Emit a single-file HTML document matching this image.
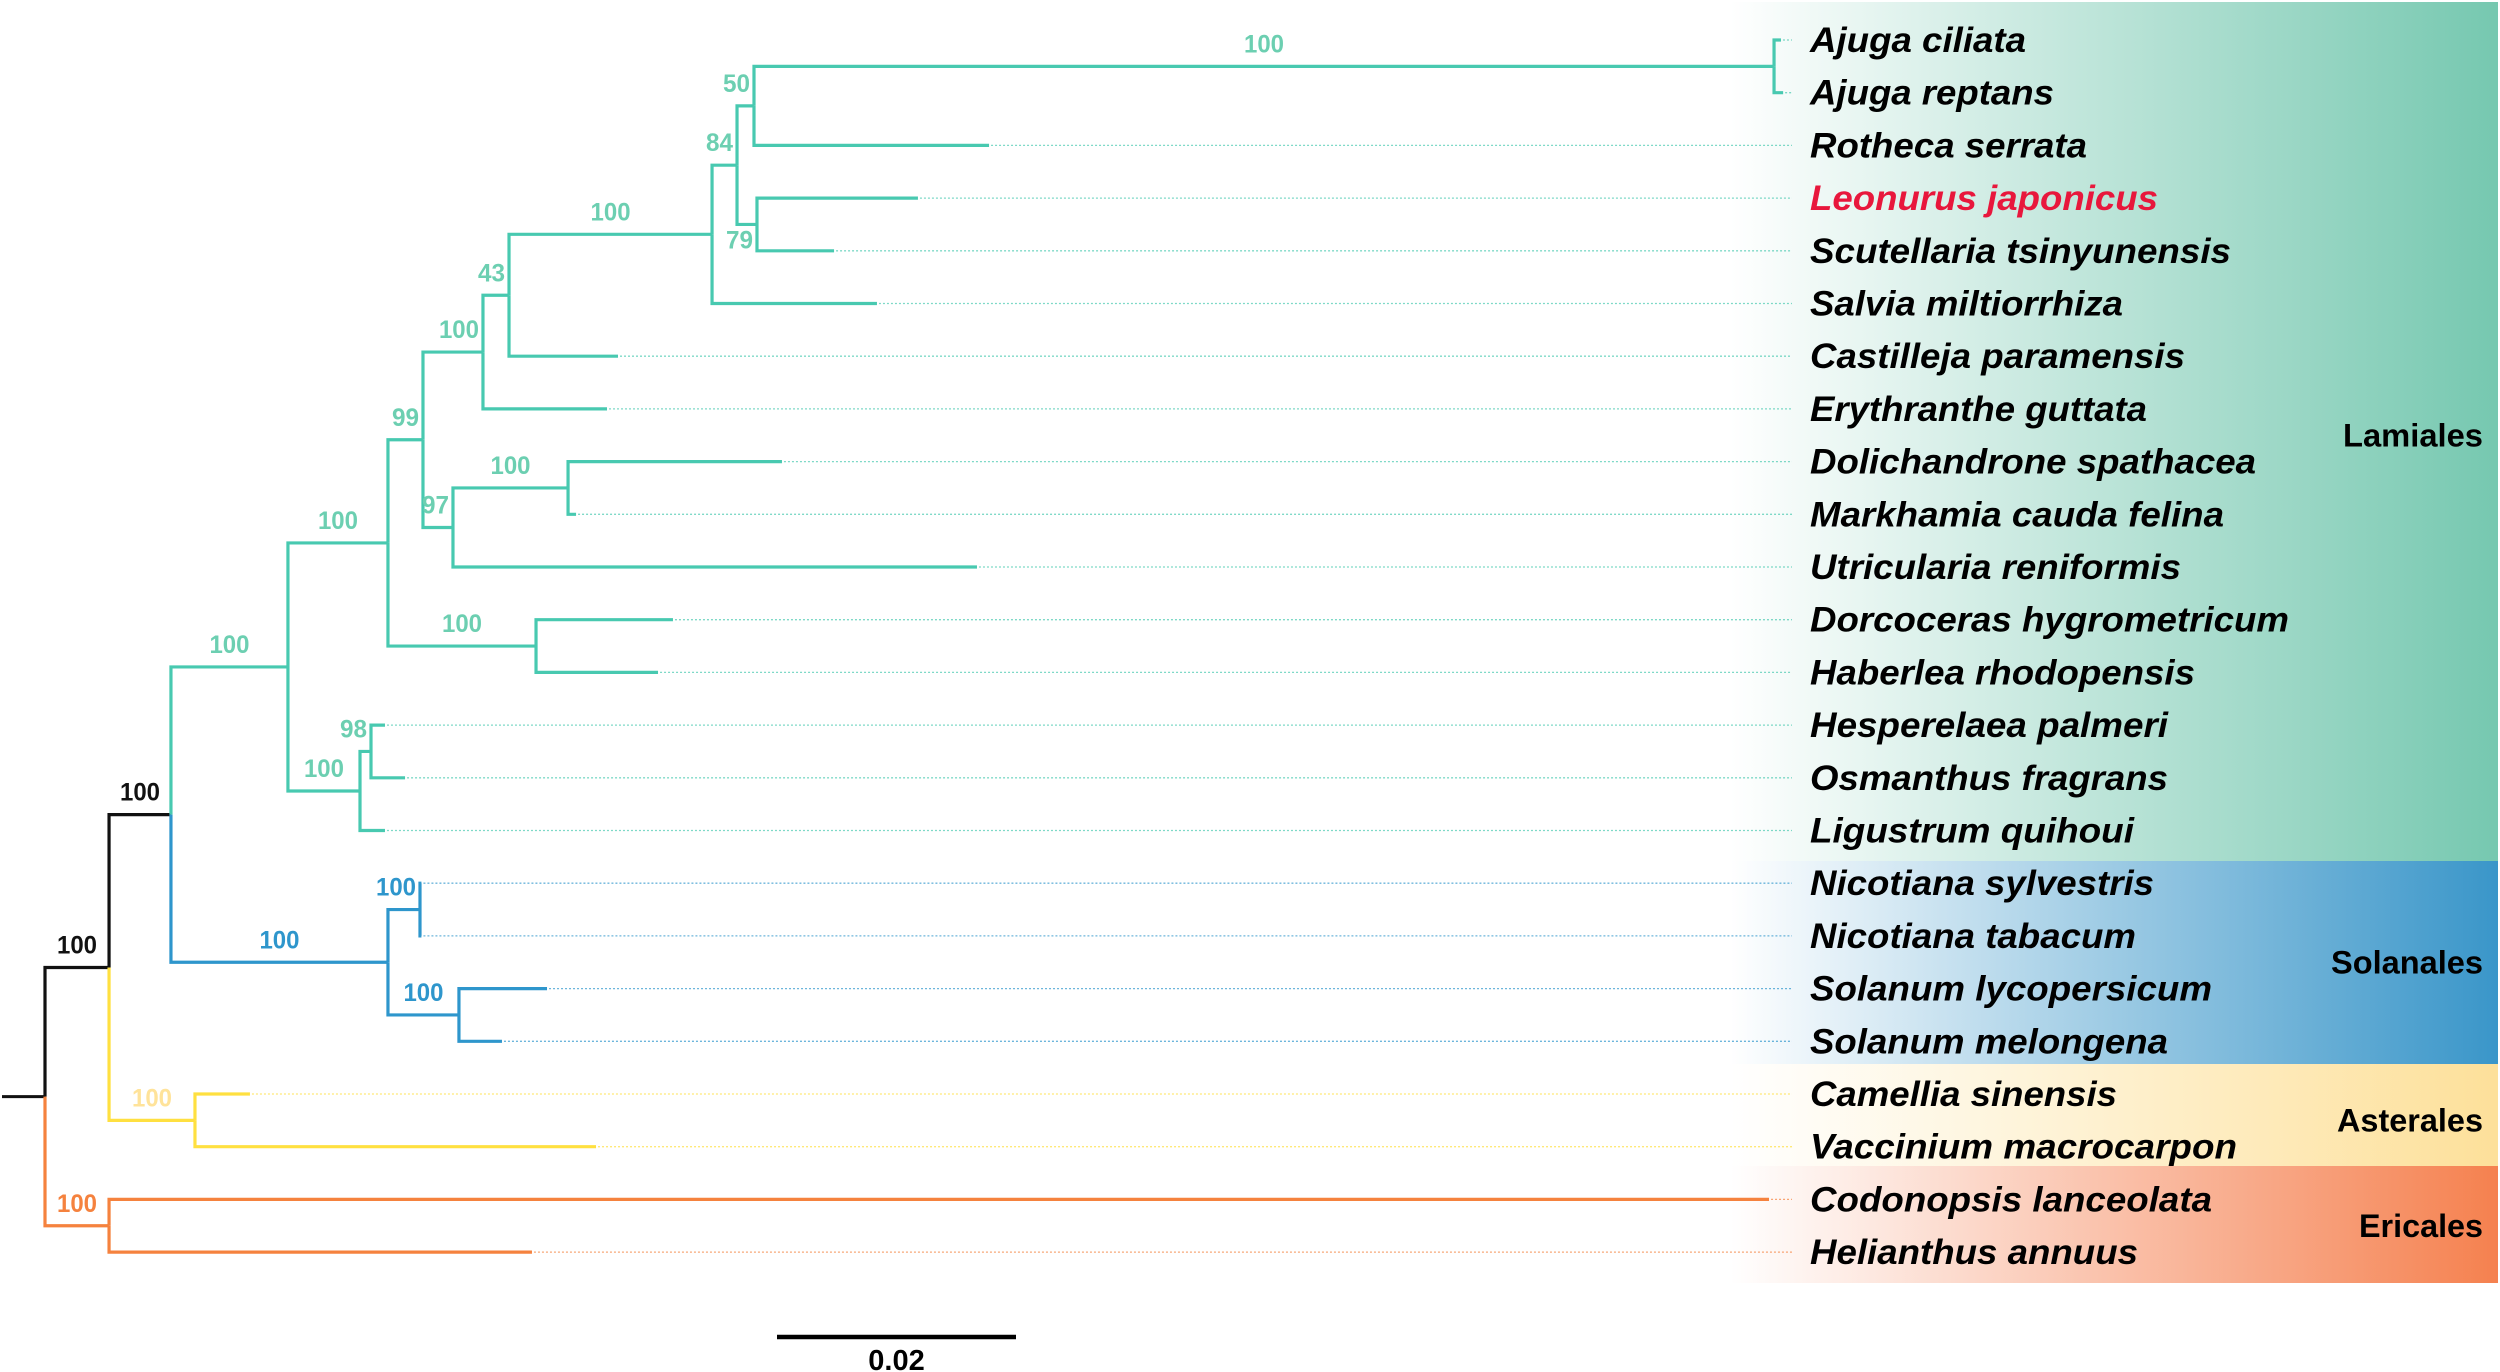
<!DOCTYPE html>
<html><head><meta charset="utf-8"><style>
html,body{margin:0;padding:0;background:#fff;}
svg{display:block;}
</style></head><body>
<svg id="chart" width="2500" height="1372" viewBox="0 0 2500 1372" xmlns="http://www.w3.org/2000/svg" font-family="'Liberation Sans', sans-serif">
<defs>
<linearGradient id="gL" x1="1730" x2="2497" gradientUnits="userSpaceOnUse"><stop offset="0" stop-color="#76C8B0" stop-opacity="0"/><stop offset="1" stop-color="#76C8B0"/></linearGradient>
<linearGradient id="gS" x1="1730" x2="2497" gradientUnits="userSpaceOnUse"><stop offset="0" stop-color="#3A96C9" stop-opacity="0"/><stop offset="1" stop-color="#3A96C9"/></linearGradient>
<linearGradient id="gA" x1="1730" x2="2497" gradientUnits="userSpaceOnUse"><stop offset="0" stop-color="#FDE3A0" stop-opacity="0"/><stop offset="1" stop-color="#FDE09A"/></linearGradient>
<linearGradient id="gE" x1="1730" x2="2497" gradientUnits="userSpaceOnUse"><stop offset="0" stop-color="#F5845A" stop-opacity="0"/><stop offset="1" stop-color="#F5814F"/></linearGradient>
</defs>
<g id="bands"></g>
<g id="tree"></g>
<g id="labels"></g>
</svg>
<script>
// ---- data ----
const leafNames = ["Ajuga ciliata","Ajuga reptans","Rotheca serrata","Leonurus japonicus","Scutellaria tsinyunensis","Salvia miltiorrhiza","Castilleja paramensis","Erythranthe guttata","Dolichandrone spathacea","Markhamia cauda felina","Utricularia reniformis","Dorcoceras hygrometricum","Haberlea rhodopensis","Hesperelaea palmeri","Osmanthus fragrans","Ligustrum quihoui","Nicotiana sylvestris","Nicotiana tabacum","Solanum lycopersicum","Solanum melongena","Camellia sinensis","Vaccinium macrocarpon","Codonopsis lanceolata","Helianthus annuus"];
const leafDepths = [0.14527,0.14545,0.0790,0.07305,0.06603,0.06962,0.04795,0.04703,0.06167,0.04444,0.07799,0.05255,0.0513,0.02845,0.03013,0.02845,0.0315,0.0315,0.04201,0.03824,0.01715,0.04611,0.14427,0.04075];
const leafClades = ["L","L","L","L","L","L","L","L","L","L","L","L","L","L","L","L","S","S","S","S","A","A","E","E"];
const labelWidths = [216,244,277,348,421,313,375,337,446,414,371,479,385,358,358,324,344,326,402,358,307,427,402,328];
const nodeIds = ["root","A","B","L0","L1","L2","L3","L4","L5","L6","L7","L8","L9","L10","L11","L12","L13","L14","S0","S1","S2","AS","E"];
const nodeParents = [null,"root","A","B","L0","L1","L2","L3","L4","L5","L6","L7","L6","L2","L10","L1","L0","L13","B","S0","S0","A","root"];
const nodeDepths = [0,0.00536,0.01054,0.02033,0.0287,0.03163,0.03665,0.03883,0.05582,0.05791,0.05933,0.14469,0.05958,0.03414,0.04377,0.04109,0.02636,0.02728,0.0287,0.03138,0.03464,0.01255,0.00536];
const nodeSupport = [null,100,100,100,100,99,100,43,100,84,50,100,79,97,100,100,100,98,100,100,100,100,100];
const nodeClades = ["K","K","K","L","L","L","L","L","L","L","L","L","L","L","L","L","L","L","S","S","S","A","E"];
const leafParents = ["L8","L8","L7","L9","L9","L5","L4","L3","L11","L11","L10","L12","L12","L14","L14","L13","S1","S1","S2","S2","AS","AS","E","E"];
const groupNames = ["Lamiales","Solanales","Asterales","Ericales"];
const groupFirstLeaf = [0,16,20,22];
const groupLastLeaf = [15,19,21,23];
const scaleBarValue = 0.02;

// ---- axes ----
const X0 = 45, PXU = 11950;
const xs = d => X0 + d * PXU;
const ys = i => 40 + 52.7 * i;
const lineCol = {K:"#111111",L:"#48C9B0",S:"#2E96CC",A:"#FFE040",E:"#F5823E"};
const lblCol = {K:"#111111",L:"#6CCFB1",S:"#2E96CC",A:"#FFE39A",E:"#F5823E"};
const bandFill = ["url(#gL)","url(#gS)","url(#gA)","url(#gE)"];
const bandEdges = [2,861,1064,1166,1283];
const groupLabelW = [140,152,146,124];
const NS = "http://www.w3.org/2000/svg";
function mk(tag, attrs, parent){const e=document.createElementNS(NS,tag);for(const k in attrs)e.setAttribute(k,attrs[k]);parent.appendChild(e);return e;}
const gB=document.getElementById('bands'), gT=document.getElementById('tree'), gL=document.getElementById('labels');

groupNames.forEach((g,i)=>{
  const y0 = bandEdges[i], y1 = bandEdges[i+1];
  const r=mk('rect',{x:1690,y:y0,width:2498-1690,height:y1-y0,fill:bandFill[i]},gB);
  
  
  const t=mk('text',{x:2483,y:(ys(groupFirstLeaf[i])+ys(groupLastLeaf[i]))/2+11,'text-anchor':'end','font-size':32,'font-weight':'bold',fill:'#000',textLength:groupLabelW[i],lengthAdjust:'spacingAndGlyphs'},gL);
  t.textContent=g;
  
  
});

const node={};
nodeIds.forEach((id,i)=>{node[id]={id,parent:nodeParents[i],d:nodeDepths[i],s:nodeSupport[i],c:nodeClades[i],kids:[]};});
leafNames.forEach((n,i)=>{node['leaf'+i]={id:'leaf'+i,parent:leafParents[i],d:leafDepths[i],c:leafClades[i],leaf:i,kids:[]};});
Object.values(node).forEach(n=>{if(n.parent)node[n.parent].kids.push(n);});
function yOf(n){if(n.leaf!==undefined)return n.y=ys(n.leaf);const v=n.kids.map(yOf);return n.y=(Math.min(...v)+Math.max(...v))/2;}
yOf(node.root);

const stub=mk('line',{x1:2,x2:xs(0),y1:node.root.y,y2:node.root.y,stroke:lineCol.K,'stroke-width':3},gT);



Object.values(node).forEach(n=>{
  if(!n.parent)return;
  const p=node[n.parent];
  const col=lineCol[n.c];
  const path=mk('path',{d:`M${xs(p.d)},${p.y}V${n.y}H${xs(n.d)}`,fill:'none',stroke:col,'stroke-width':3.2},gT);
  
  
  if(n.leaf!==undefined){
    if(xs(n.d)<1785){
      const dl=mk('line',{x1:xs(n.d)+2,x2:1792,y1:n.y,y2:n.y,stroke:col,'stroke-width':1.3,'stroke-dasharray':'2 2',opacity:0.7},gT);
      
      
    }
    const t=mk('text',{x:1810,y:n.y+12,'font-size':35,'font-weight':'bold','font-style':'italic',fill:n.leaf===3?'#E8173C':'#000',textLength:labelWidths[n.leaf],lengthAdjust:'spacingAndGlyphs'},gL);
    t.textContent=leafNames[n.leaf];
    
    
  } else if(n.s!=null){
    const len=xs(n.d)-xs(p.d);
    let x,anchor,y=n.y-14;
    if(len>60){x=(xs(n.d)+xs(p.d))/2;anchor='middle';}else{x=xs(n.d)-4;anchor='end';}
    if(n.id==='L9'){x=xs(n.d)-4;anchor='end';y=n.y+24;}
    const t=mk('text',{x:x,y:y,'text-anchor':anchor,'font-size':25,'font-weight':'bold',fill:lblCol[n.c],textLength:n.s>=100?40:27,lengthAdjust:'spacingAndGlyphs'},gT);
    t.textContent=n.s;
    
    
  }
});

const sb=mk('line',{x1:777,x2:777+scaleBarValue*PXU,y1:1337,y2:1337,stroke:'#000','stroke-width':4.5},gL);


const sbt=mk('text',{x:777+scaleBarValue*PXU/2,y:1370,'text-anchor':'middle','font-size':29,'font-weight':'bold',fill:'#000'},gL);
sbt.textContent=String(scaleBarValue);


</script>
</body></html>
